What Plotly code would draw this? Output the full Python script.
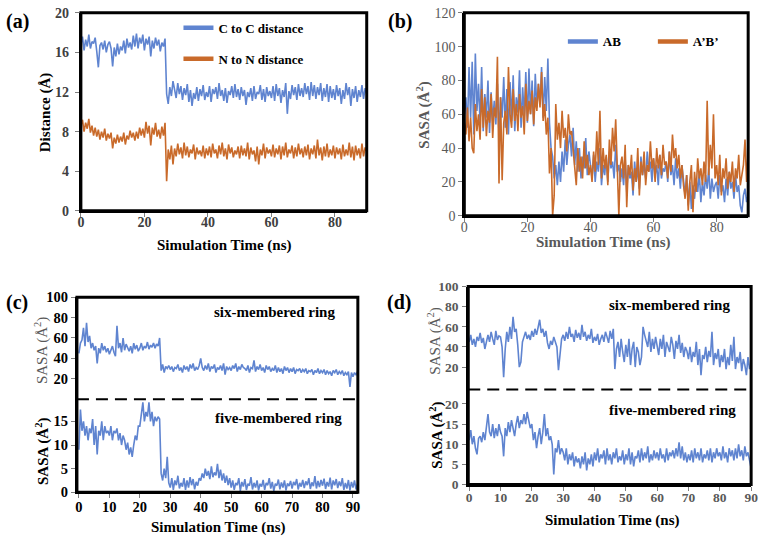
import plotly.graph_objects as go

W, H = 767, 543
STEP = 0.5  # ns between stored samples

# ---------------- (a) distances ----------------
a_cc = [16.8,17.6,16.2,17.3,16.6,17.8,16.4,17.1,16.9,17.5,16.1,14.5,16.7,17.0,16.3,17.2,16.0,16.8,17.1,16.4,
        14.6,16.5,15.6,16.9,15.8,16.6,16.2,17.2,15.9,17.4,16.5,17.0,16.3,17.7,16.6,17.9,16.4,17.5,16.9,17.8,
        16.2,17.4,16.8,17.6,15.6,17.2,16.4,17.5,16.7,17.3,16.1,17.0,16.6,17.4,11.8,10.8,12.5,11.6,13.1,12.0,
        11.4,12.9,11.8,12.6,11.2,12.4,11.7,12.8,11.0,12.2,10.6,11.9,11.3,12.5,11.1,12.3,11.6,12.7,11.2,12.0,
        11.5,12.6,11.0,12.3,11.8,12.5,11.3,12.9,11.6,12.2,11.1,12.4,10.9,12.1,11.7,12.6,11.4,12.8,11.5,12.3,
        11.2,12.5,11.6,12.2,10.7,12.0,11.5,12.4,11.1,12.6,11.3,12.0,11.8,12.7,11.2,12.3,11.0,12.5,11.6,12.1,
        11.4,12.6,11.1,12.8,11.6,12.4,10.9,12.2,11.5,12.9,9.8,12.1,11.3,12.7,11.7,12.5,11.2,12.8,11.6,12.4,
        11.5,12.9,11.8,12.6,11.2,13.0,11.6,12.7,11.3,12.5,11.7,12.9,11.1,12.4,11.5,12.8,11.0,12.6,11.4,12.3,
        11.2,12.7,11.6,12.4,10.8,12.2,11.3,12.9,11.7,12.5,10.6,12.3,11.4,12.6,11.0,12.2,11.5,12.7,11.3,12.4,
        11.8]
a_nn = [8.6,9.2,8.0,8.9,8.3,9.3,7.9,8.6,7.6,8.4,7.5,8.2,7.2,8.0,7.4,8.3,7.1,7.8,7.3,7.9,
        6.3,7.4,6.8,7.7,6.9,7.5,7.0,7.9,6.7,7.6,7.2,8.1,7.4,7.9,7.1,8.0,7.3,8.4,7.6,8.3,
        7.4,9.0,7.8,8.6,6.6,8.4,7.7,8.9,7.5,8.2,7.3,8.5,7.6,8.9,3.0,6.2,5.2,6.6,4.7,6.3,
        5.5,6.8,5.7,6.4,5.3,6.9,5.6,6.5,5.4,6.2,5.8,6.7,5.2,6.4,5.7,6.1,5.5,6.6,5.3,6.3,
        5.6,6.5,5.4,6.8,5.8,6.2,5.3,6.6,5.7,6.9,5.5,6.3,5.2,6.7,5.8,6.4,5.4,6.1,5.7,6.5,
        5.3,6.6,5.6,6.3,5.5,6.9,5.2,6.4,5.7,6.1,5.0,6.5,4.7,6.2,5.6,6.8,5.3,6.4,5.8,6.2,
        5.5,6.7,5.4,6.3,5.7,6.6,5.2,6.5,5.6,6.9,5.4,6.2,5.8,6.6,5.3,6.4,5.5,6.8,5.7,6.3,
        5.4,6.5,5.6,6.7,5.2,6.3,5.7,6.6,5.3,7.2,5.6,6.4,5.1,6.5,5.5,6.8,5.4,6.2,5.6,6.6,
        5.3,6.4,5.7,6.3,5.2,6.7,5.5,6.2,5.6,6.9,5.4,6.5,5.1,6.6,5.6,6.3,5.3,6.8,5.5,6.4,
        6.0]

# ---------------- (b) SASA AB / A'B' ----------------
b_ab = [60,70,52,88,58,91,48,96,62,78,55,88,50,72,58,80,49,73,56,68,
        54,78,47,70,58,82,52,75,48,79,56,83,50,70,61,86,52,76,59,85,
        55,87,60,80,53,84,64,78,66,88,58,82,62,93,55,40,35,22,30,18,
        32,20,38,26,45,30,42,48,35,52,30,44,26,40,22,35,28,46,24,38,
        30,22,36,20,32,26,40,18,30,24,35,20,38,28,32,22,42,26,30,20,
        28,18,34,14,30,22,26,12,32,20,28,16,35,24,30,22,38,26,32,20,
        34,24,30,18,36,22,28,26,32,20,38,24,30,18,34,22,28,16,30,20,
        12,24,6,20,4,18,10,22,14,26,8,20,12,24,16,28,10,22,14,18,
        20,10,24,14,18,8,22,12,26,16,20,10,24,14,18,6,2,12,16,8,
        12]
b_apbp = [55,48,64,44,58,40,37,66,50,60,45,75,52,70,47,62,55,72,46,64,
          58,94,19,70,21,55,62,48,88,60,52,75,56,66,50,72,58,65,48,78,
          56,68,60,74,54,70,62,78,64,85,56,66,48,58,25,40,0,12,66,45,
          55,40,62,46,52,38,60,48,50,38,28,18,40,26,35,22,44,28,36,24,
          30,20,38,26,50,30,62,22,40,28,36,18,45,30,52,38,57,28,0,30,
          35,22,42,5,30,24,36,15,28,20,40,12,32,24,38,18,30,26,44,28,
          34,20,40,28,36,24,42,30,32,22,38,26,48,34,40,28,36,22,30,18,
          10,24,3,20,30,2,26,14,34,22,28,18,32,20,68,24,42,28,60,22,
          30,18,36,12,28,22,34,16,26,20,32,14,28,22,36,18,24,30,45,20,
          38]

# ---------------- (c) ring SASA ----------------
c_six = [45,55,58,70,52,75,56,62,50,55,48,52,35,50,45,55,48,52,46,50,
         44,48,52,46,42,72,50,55,46,60,48,54,50,47,52,45,55,49,53,47,
         50,55,48,52,50,56,49,53,51,55,50,54,52,60,28,34,26,32,30,33,
         29,32,27,31,30,34,28,31,26,33,29,32,27,34,30,35,28,31,29,33,
         40,31,28,33,29,35,27,32,30,34,26,31,29,33,28,35,24,32,29,31,
         28,33,30,35,27,32,29,34,31,30,28,33,26,31,30,38,27,32,29,34,
         28,31,26,33,29,32,27,30,28,33,26,31,27,30,25,32,28,31,26,30,
         27,31,25,29,28,30,26,29,27,30,25,28,27,29,24,28,26,30,25,28,
         26,29,24,28,25,27,23,28,26,29,24,27,25,28,23,26,24,27,12,26,
         22,26,24,27]
c_five = [9,17.5,13,15,12,14,11,13.5,12.5,15.5,10,14,8,13,12,15,11,14,12.5,13,
          12,14,11,13,12.5,13.5,11,12.5,10,12,11,9,10.5,8,9.5,7.5,10,12,11,14,
          14,16,19,15,17,16,19,15,17,14,16,15,16,15.5,4,2.5,5,3,7.5,2,
          1,3,0.5,2.5,1.5,3.5,0.8,2,1.2,3,0.5,2.5,1,3.2,1.5,2.8,0.6,2.2,1.4,3,
          2.5,4,3,5,3.5,4.5,2.8,5.5,3.2,4.2,3.6,6,3,4.8,2.5,4,2,3.5,1.5,3,
          1,2.5,0.5,2,1.5,3,0.3,2.2,1.2,2.8,0.5,1.8,1.4,3.2,0.6,2,1,2.5,0.4,1.8,
          1.2,2.6,0.5,2,1.5,3,0.8,2.2,0.3,1.8,1.4,2.7,0.6,2.1,1,2.5,0.4,1.9,1.3,2.4,
          0.8,2.2,1.5,2.8,0.6,2,1.2,2.6,0.9,2.3,1.5,3,0.7,2.1,1.3,3.4,0.8,2.4,1.1,2.6,
          1.4,2.9,0.7,2.2,1.2,3.1,0.6,2.5,1.5,2.8,0.9,2.3,1.3,3,0.5,2,0.8,2.6,0.4,2.2,
          1,2.5,0.6,1.8]

# ---------------- (d) ring SASA ----------------
d_six = [45,52,42,48,40,50,46,54,44,49,38,47,52,45,55,48,42,56,47,51,
         50,40,10,38,55,45,60,48,70,55,58,42,20,25,45,50,55,48,52,47,
         56,50,58,52,60,67,54,58,50,56,44,38,46,42,50,45,40,17,35,48,
         52,46,55,48,60,50,53,45,57,49,54,47,62,50,55,46,52,48,58,44,
         50,46,53,42,48,52,45,55,50,44,56,48,58,18,38,45,30,48,35,25,
         42,30,48,22,38,45,20,40,35,22,30,60,52,45,40,55,35,48,38,50,
         42,32,48,38,52,30,45,40,35,50,42,28,46,38,52,34,44,30,40,36,
         28,40,25,35,30,45,22,38,12,32,28,40,25,36,30,55,22,34,28,38,
         20,32,25,38,18,30,22,42,26,50,18,30,24,35,16,28,22,12,30,18,
         22]
d_five = [11,13.5,10,12,9,7.5,11.5,12,10.5,13,11,14,17.5,13,12,15,11.5,14,12,15,
          13,12,7,14,12,15.5,13,16,14,12,15,17,14,16,15,17.5,15,18,16,14,
          15,11,13,9,12,14,10,13,17.5,12,14,11,12,10,2.5,9,8,11,7.5,9,
          8,6,9,5,7.5,6,8,4.5,7,5.5,6.5,4,7,5,8,3.5,6.5,5,7.5,4.5,
          8,6,9,5.5,7.5,6.5,8.5,5,9,6,7.5,5,8,6.5,9,5.5,7,6,8.5,5,
          7.5,6,9,5,8,4.5,7,6.5,8.5,5.5,9,6,8,6.5,9.5,5.5,7.5,6,8.5,6.5,
          8,6,9,6.5,7.5,5.5,9,6,8,7,8.5,6.5,9,7,10.5,6.5,9.5,6,8,5.5,
          7.5,6,8.5,5.5,9,6.5,8,6,9,5.5,7.5,6.5,8.5,6,9,5.5,8,6.5,9,7,
          8,6,9.5,6.5,8,5.5,9,7,8.5,6,9,6.5,10,7,8.5,6,9.5,7,8,6,
          4]

BLUE = "#5f84d0"
ORANGE = "#c96a2a"
FONT = "Liberation Serif, Times New Roman, serif"


def times(vals):
    return [i * STEP for i in range(len(vals))]


def fx(p):
    return p / W


def fy(p):
    return 1 - p / H


fig = go.Figure()


def add_line(vals, color, xa, ya, name):
    fig.add_trace(go.Scatter(x=times(vals), y=vals, mode="lines", name=name,
                             line=dict(color=color, width=1.6), xaxis=xa, yaxis=ya,
                             showlegend=False, hoverinfo="skip"))


def add_key(name, color, legend, group):
    fig.add_trace(go.Scatter(x=[None], y=[None], mode="lines", name=name,
                             line=dict(color=color, width=4.5), legend=legend,
                             legendgroup=group, showlegend=True))


add_line(a_cc, BLUE, "x", "y", "C to C distance")
add_line(a_nn, ORANGE, "x", "y", "N to N distance")
add_line(b_ab, BLUE, "x2", "y2", "AB")
add_line(b_apbp, ORANGE, "x2", "y2", "A’B’")
add_line(c_six, BLUE, "x3", "y3", "six")
add_line(c_five, BLUE, "x4", "y4", "five")
add_line(d_six, BLUE, "x5", "y5", "six")
add_line(d_five, BLUE, "x6", "y6", "five")

add_key("C to C distance", BLUE, "legend", "g1")
add_key("N to N distance", ORANGE, "legend", "g2")
add_key("AB", BLUE, "legend2", "g3")
add_key("A’B’", ORANGE, "legend2", "g4")


def xaxis(dom, rng, dtick, anchor, color, bold, size, show=True, standoff=0):
    return dict(domain=[fx(dom[0]), fx(dom[1])], range=rng, dtick=dtick, tick0=0,
                anchor=anchor, showgrid=False, zeroline=False, showline=show,
                linecolor="black", linewidth=2, ticks="outside" if show else "",
                ticklen=4, tickcolor="#7f7f7f", showticklabels=show,
                ticklabelstandoff=standoff,
                tickfont=dict(family=FONT, size=size, color=color,
                              weight="bold" if bold else "normal"))


def yaxis(dom, rng, tickvals, anchor, color, bold, size, standoff=0):
    return dict(domain=[fy(dom[0]), fy(dom[1])], range=rng, tickvals=tickvals,
                anchor=anchor, showgrid=False, zeroline=False, showline=True,
                linecolor="black", linewidth=2, ticks="outside", ticklen=4,
                tickcolor="#7f7f7f", ticklabelstandoff=standoff,
                tickfont=dict(family=FONT, size=size, color=color,
                              weight="bold" if bold else "normal"))


DARK = "#404040"
GRAY = "#595959"

layout = dict(
    width=W, height=H, autosize=False, margin=dict(l=0, r=0, t=0, b=0),
    paper_bgcolor="white", plot_bgcolor="white",
    font=dict(family=FONT),
    xaxis=xaxis((78, 368), [0, 90], 20, "y", DARK, True, 14, standoff=-7),
    yaxis=yaxis((209, 5), [0, 20], [0, 4, 8, 12, 16, 20], "x", DARK, True, 14, 3),
    xaxis2=xaxis((467, 755), [0, 90], 20, "y2", GRAY, False, 14, standoff=-6),
    yaxis2=yaxis((214, 5), [0, 120], [0, 20, 40, 60, 80, 100, 120], "x2", GRAY, False, 14),
    xaxis3=xaxis((74, 359), [-0.65, 91.6], 10, "y3", "black", True, 14.5, show=False),
    yaxis3=yaxis((403, 298), [0, 100], [20, 40, 60, 80, 100], "x3", "black", True, 14.5),
    xaxis4=xaxis((74, 359), [-0.65, 91.6], 10, "y4", "black", True, 14.5, standoff=-4),
    yaxis4=yaxis((499, 403), [0, 19.7], [0, 5, 10, 15], "x4", "black", True, 14.5),
    xaxis5=xaxis((471, 758), [-0.3, 90], 10, "y5", GRAY, True, 13.5, show=False),
    yaxis5=yaxis((393, 287), [-2.2, 100], [20, 40, 60, 80, 100], "x5", GRAY, True, 13.5, 1),
    xaxis6=xaxis((471, 758), [-0.3, 90], 10, "y6", GRAY, True, 13.5, standoff=-5),
    yaxis6=yaxis((491, 393), [0, 23.6], [0, 5, 10, 15, 20], "x6", GRAY, True, 13.5, 1),
    legend=dict(x=fx(177), y=fy(5), xanchor="left", yanchor="top",
                bgcolor="rgba(0,0,0,0)", borderwidth=0, tracegroupgap=11,
                font=dict(family=FONT, size=13, color="black", weight="bold")),
    legend2=dict(x=fx(567), y=fy(19), xanchor="left", yanchor="top",
                 orientation="h", bgcolor="rgba(0,0,0,0)", borderwidth=0,
                 entrywidth=45, entrywidthmode="pixels",
                 font=dict(family=FONT, size=13, color="black", weight="bold")),
)

shapes = []
for xr, yr in (("x domain", "y domain"), ("x2 domain", "y2 domain")):
    shapes.append(dict(type="rect", xref=xr, yref=yr, x0=0, x1=1, y0=0, y1=1,
                       line=dict(color="black", width=3)))
for box in ((74, 298, 359, 499), (471, 287, 758, 491)):
    shapes.append(dict(type="rect", xref="paper", yref="paper",
                       x0=fx(box[0]), x1=fx(box[2]), y0=fy(box[3]), y1=fy(box[1]),
                       line=dict(color="black", width=3)))
for xr, yr in (("x4 domain", "y4 domain"), ("x6 domain", "y6 domain")):
    shapes.append(dict(type="line", xref=xr, yref=yr, x0=0, x1=1, y0=1, y1=1,
                       line=dict(color="black", width=2, dash="12px,7px")))
layout["shapes"] = shapes


def ann(text, x, y, size=15, color="black", bold=True, angle=0):
    return dict(text=text, x=fx(x), y=fy(y), xref="paper", yref="paper",
                showarrow=False, textangle=angle, xanchor="center", yanchor="middle",
                font=dict(family=FONT, size=size, color=color,
                          weight="bold" if bold else "normal"))


annotations = [
    ann("(a)", 14, 14, size=20),
    ann("(b)", 402, 14, size=20),
    ann("(c)", 13, 303, size=20),
    ann("(d)", 401, 303, size=20),
    ann("Simulation Time (ns)", 223, 245),
    ann("Distance (Å)", 42, 107, angle=-90),
    ann("Simulation Time (ns)", 608, 242, color=GRAY),
    ann("SASA (Å<sup>2</sup>)", 426, 110, color=GRAY, angle=-90),
    ann("six-membered ring", 274, 313),
    ann("five-membered ring", 278, 422),
    ann("SASA (Å<sup>2</sup>)", 38, 353, color=GRAY, bold=False, angle=-90),
    ann("SASA (Å<sup>2</sup>)", 39, 457, angle=-90),
    ann("Simulation Time (ns)", 217, 535),
    ann("six-membered ring", 675, 306),
    ann("five-membered ring", 678, 414),
    ann("SASA (Å<sup>2</sup>)", 437, 343, color=GRAY, bold=False, angle=-90),
    ann("SASA (Å<sup>2</sup>)", 438, 440, angle=-90),
    ann("Simulation Time (ns)", 617, 528),
]
layout["annotations"] = annotations

fig.update_layout(**layout)
fig.write_html("out.html", config={"displayModeBar": False},
               post_script="document.body.style.margin='0px';document.body.style.overflow='hidden';")
